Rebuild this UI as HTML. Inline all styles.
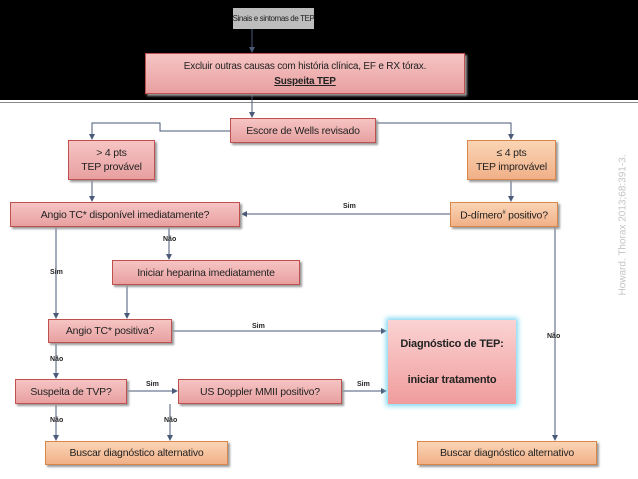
<!DOCTYPE html>
<html><head><meta charset="utf-8"><style>
body{margin:0;width:638px;height:479px;position:relative;background:#fff;overflow:hidden;font-family:"Liberation Sans",sans-serif}
.b{position:absolute;box-sizing:border-box;display:flex;align-items:center;justify-content:center;text-align:center;font-size:10.5px;color:#222;line-height:14px;white-space:nowrap;letter-spacing:-0.2px}
.p{background:linear-gradient(#f6c4c4,#e8a0a0);border:1px solid #c0504d;box-shadow:2px 2px 2px #999}
.o{background:linear-gradient(#fbd5b5,#f0b088);border:1px solid #d9864a;box-shadow:2px 2px 2px #999}
.l{position:absolute;font-size:7px;font-weight:bold;color:#222}
svg{position:absolute;left:0;top:0}
</style></head><body>
<div style="position:absolute;left:0;top:0;width:638px;height:100px;background:#000"></div>
<div style="position:absolute;left:0;top:102px;width:638px;height:1px;background:#888"></div>
<svg width="638" height="479">
<defs><marker id="a" markerWidth="6" markerHeight="6" refX="5" refY="3" orient="auto"><path d="M0,0L6,3L0,6z" fill="#4a5a78"/></marker></defs>
<g stroke="#4a5a78" stroke-width="1" fill="none">
<path d="M252,29V52" marker-end="url(#a)"/>
<path d="M252,94V117" marker-end="url(#a)"/>
<path d="M230,131H160V123H92V139" marker-end="url(#a)"/>
<path d="M376,131H349V123H511V139" marker-end="url(#a)"/>
<path d="M92,180V201" marker-end="url(#a)"/>
<path d="M511,180V201" marker-end="url(#a)"/>
<path d="M450,214H242" marker-end="url(#a)"/>
<path d="M169,227V259" marker-end="url(#a)"/>
<path d="M56,227V318" marker-end="url(#a)"/>
<path d="M127,285V318" marker-end="url(#a)"/>
<path d="M172,331H386" marker-end="url(#a)"/>
<path d="M56,343V378" marker-end="url(#a)"/>
<path d="M127,391H177" marker-end="url(#a)"/>
<path d="M342,391H386" marker-end="url(#a)"/>
<path d="M56,404V440" marker-end="url(#a)"/>
<path d="M170,404V440" marker-end="url(#a)"/>
<path d="M555,227V440" marker-end="url(#a)"/>
</g></svg>
<div class="b" style="left:233px;top:8px;width:81px;height:21px;background:#bdbdbd;font-size:8px;letter-spacing:-0.4px">Sinais e sintomas de TEP</div>
<div class="b p" style="left:145px;top:53px;width:320px;height:41px;font-size:10px;line-height:15px"><span>Excluir outras causas com história clínica, EF e RX tórax.<br><b><u>Suspeita TEP</u></b></span></div>
<div class="b p" style="left:230px;top:118px;width:146px;height:25px">Escore de Wells revisado</div>
<div class="b p" style="left:68px;top:140px;width:87px;height:40px"><span>&gt; 4 pts<br>TEP provável</span></div>
<div class="b o" style="left:467px;top:140px;width:89px;height:40px"><span>≤ 4 pts<br>TEP improvável</span></div>
<div class="b p" style="left:10px;top:202px;width:230px;height:25px">Angio TC* disponível imediatamente?</div>
<div class="b o" style="left:450px;top:202px;width:108px;height:25px"><span>D-dímero<sup style="font-size:6px">#</sup> positivo?</span></div>
<div class="b p" style="left:112px;top:260px;width:188px;height:25px">Iniciar heparina imediatamente</div>
<div class="b p" style="left:48px;top:319px;width:124px;height:24px">Angio TC* positiva?</div>
<div class="b p" style="left:388px;top:320px;width:128px;height:84px;font-weight:bold;font-size:11px;line-height:18px;border:none;box-shadow:0 0 5px 2px #7fd6f0;background:linear-gradient(#fbd3d3,#f09c9c)"><span>Diagnóstico de TEP:<br><br>iniciar tratamento</span></div>
<div class="b p" style="left:15px;top:379px;width:112px;height:25px">Suspeita de TVP?</div>
<div class="b p" style="left:178px;top:379px;width:164px;height:25px">US Doppler MMII positivo?</div>
<div class="b o" style="left:45px;top:441px;width:183px;height:24px">Buscar diagnóstico alternativo</div>
<div class="b o" style="left:417px;top:441px;width:180px;height:24px">Buscar diagnóstico alternativo</div>
<div class="l" style="left:343px;top:203px">Sim</div>
<div class="l" style="left:163px;top:236px">Não</div>
<div class="l" style="left:50px;top:269px">Sim</div>
<div class="l" style="left:252px;top:323px">Sim</div>
<div class="l" style="left:547px;top:333px">Não</div>
<div class="l" style="left:50px;top:356px">Não</div>
<div class="l" style="left:146px;top:381px">Sim</div>
<div class="l" style="left:357px;top:381px">Sim</div>
<div class="l" style="left:50px;top:417px">Não</div>
<div class="l" style="left:164px;top:417px">Não</div>
<div style="position:absolute;left:623px;top:225px;transform:translate(-50%,-50%) rotate(-90deg);white-space:nowrap;font-size:10px;color:#c4c4c4">Howard. Thorax 2013;68:391-3.</div>
</body></html>
